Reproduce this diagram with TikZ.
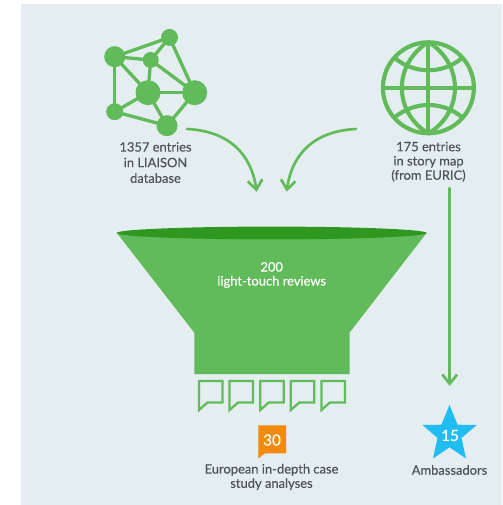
\documentclass[tikz,border=0pt]{standalone}
\usepackage{fontspec}
\setmainfont{Lato}
\newfontfamily\labfont[FakeBold=0.25]{Lato}
\usetikzlibrary{arrows.meta}
\definecolor{panel}{HTML}{E4EDF0}
\definecolor{gr}{HTML}{62BB5A}
\definecolor{dgr}{HTML}{2F9620}
\definecolor{txt}{HTML}{4D5356}
\definecolor{orng}{HTML}{F28A0C}
\definecolor{sky}{HTML}{1FBDF2}
\tikzset{
  px/.style={x=0.75pt,y=-0.75pt},
  dot/.style={circle,fill=gr,inner sep=0pt,minimum size=#1*0.75pt},
  lnk/.style={draw=gr,line width=2.5pt},
  lab/.style={text=txt,align=center,font=\labfont\fontsize{9.7}{10.7}\selectfont,inner sep=0pt},
  labwide/.style={lab,font=\labfont\fontsize{9.7}{11.7}\selectfont},
  wlab/.style={lab,text=white,font=\labfont\fontsize{9.7}{10.5}\selectfont},
  num/.style={text=white,inner sep=0pt,font=\labfont\fontsize{11.5}{14}\selectfont},
  arr/.style={draw=gr,line width=2pt,line cap=round,-{Straight Barb[length=7pt,width=11pt,line width=2pt]}},
  globe/.style={draw=gr,line width=3.1pt},
  bub/.style={draw=gr,line width=1.7pt,fill=none,miter limit=10},
}
\begin{document}
\begin{tikzpicture}[px]
\useasboundingbox (0,0) rectangle (502,505);
\fill[panel] (20.5,4) rectangle (502,505);
% network
\node[dot=17] (a) at (169.5,37.5) {};
\node[dot=21] (b) at (114.7,56.7) {};
\node[dot=16] (c) at (150.7,60) {};
\node[dot=25] (d) at (148,92.7) {};
\node[dot=25] (e) at (194.7,92.7) {};
\node[dot=17] (f) at (114.7,111.7) {};
\node[dot=21] (g) at (167,125.7) {};
\foreach \p/\q in {b/a,a/c,b/c,c/d,b/d,b/f,d/f,d/e,d/g,f/g,g/e,a/e,c/e}
  \draw[lnk] (\p.center) -- (\q.center);
\node[labwide] (netlab) at (155.5,162.5) {1357 entries\\in LIAISON\\database};
% globe
\coordinate (gc) at (428.4,87.8);
\draw[globe] (gc) circle [radius=45.5];
\draw[globe] (428.4,42) -- (428.4,133.5);
\draw[globe] (383,87.8) -- (474,87.8);
\draw[globe] (428.4,42) .. controls (393,64) and (393,112) .. (428.4,133.5);
\draw[globe] (428.4,42) .. controls (463.8,64) and (463.8,112) .. (428.4,133.5);
\draw[globe] (395,58.3) .. controls (415,74.3) and (442,74.3) .. (461.8,58.3);
\draw[globe] (395,117) .. controls (415,101) and (442,101) .. (461.8,117);
\node[lab] (globelab) at (428.5,161.7) {175 entries\\in story map\\(from EURIC)};
% arrows
\coordinate (s1) at (187,129);
\coordinate (e1) at (256.7,191.7);
\coordinate (s2) at (356,129);
\coordinate (e2) at (286.7,191.7);
\coordinate (s3) at (449.7,188);
\coordinate (e3) at (449.7,386);
\draw[arr] (s1) .. controls (228,131) and (251,153) .. (e1);
\draw[arr] (s2) .. controls (315,131) and (292,153) .. (e2);
\draw[arr] (s3) -- (e3);
% funnel
\fill[gr] (116.7,232.7) -- (194.3,332.7) -- (194.3,374) -- (349.5,374) -- (349.5,332.7) -- (426.7,232.7) -- cycle;
\fill[dgr] (271.7,233) ellipse [x radius=155, y radius=6.4];
\node[wlab] (funlab) at (271.7,275) {200\\light-touch reviews};
% bubbles
\foreach \i in {0,1,2,3,4}{
  \draw[bub,xshift=\i*30.6*0.75pt] (199,381) -- (222.5,381) -- (222.5,402.5) -- (207.5,402.5) -- (199,410) -- cycle;
}
% orange
\fill[orng] (258.3,425.3) -- (286,425.3) -- (286,453.3) -- (265,453.3) -- (258.3,458.5) -- cycle;
\node[num] (n30) at (272,440) {30};
\node[lab] (orlab) at (271.5,477) {European in-depth case\\study analyses};
% star
\fill[sky] (449.5,405) -- (457.6,424.7) -- (476.7,425) -- (461.5,438) -- (466,458.5) -- (449.5,447.3) -- (433,458.5) -- (437.5,438) -- (422.5,425) -- (441.4,424.7) -- cycle;
\node[num] (n15) at (450,435.5) {15};
\node[lab] (amb) at (449.5,470) {Ambassadors};
\end{tikzpicture}
\end{document}
